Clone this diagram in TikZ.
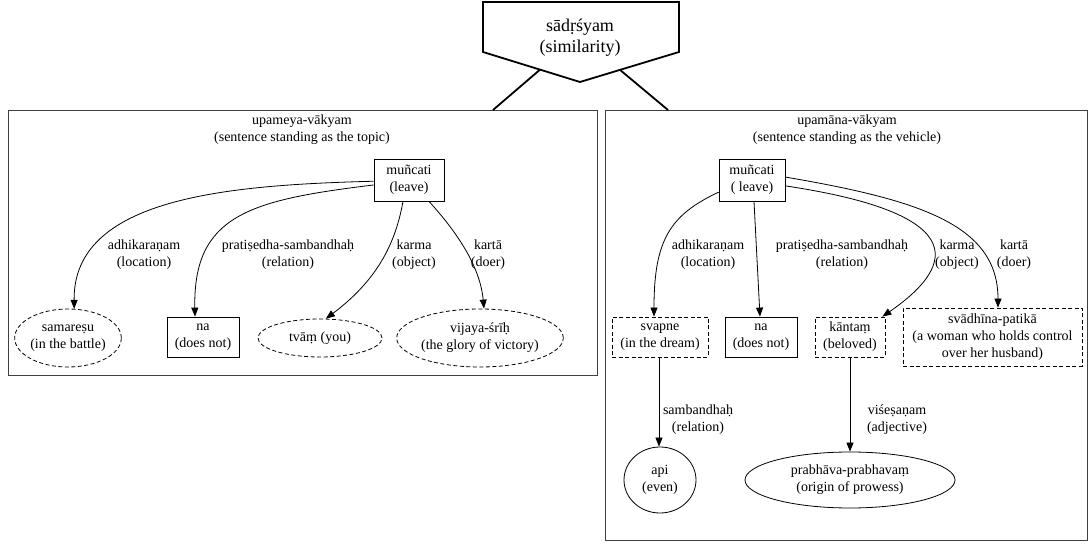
\documentclass[tikz,border=0pt]{standalone}
\usepackage{fontspec}
\setmainfont{Liberation Serif}
\usetikzlibrary{arrows.meta,shapes.geometric,calc}
\begin{document}
\begin{tikzpicture}[x=1pt,y=-1pt,
  txt/.style={font=\fontsize{14}{17}\selectfont, align=center, inner sep=0pt},
  box/.style={txt, draw, rectangle, line width=0.8pt},
  dbox/.style={box, dash pattern=on 4pt off 2.5pt},
  oval/.style={txt, draw, ellipse, line width=0.8pt},
  doval/.style={oval, dash pattern=on 4pt off 2.5pt},
  cluster/.style={draw=black!75, line width=0.8pt, rectangle, inner sep=0pt},
  arr/.style={line width=0.8pt, -{Triangle[length=9pt,width=7pt]}},
  link/.style={line width=1.8pt},
  lbl/.style={txt}
]
\useasboundingbox (0,0) rectangle (1088,545);

% clusters
\node[cluster, minimum width=589pt, minimum height=265pt] (cL) at (302.5,242.5) {};
\node[cluster, minimum width=482pt, minimum height=430pt] (cR) at (846,325) {};
\node[lbl] (cLt) at (302,130) {upameya-vākyam\\(sentence standing as the topic)};
\node[lbl] (cRt) at (847,130) {upamāna-vākyam\\(sentence standing as the vehicle)};

% top node (inverted house)
\coordinate (tTL) at (483,2);
\coordinate (tTR) at (679,2);
\coordinate (tBR) at (679,52);
\coordinate (tB) at (580,82);
\coordinate (tBL) at (483,52);
\draw[line width=1.8pt, line join=miter] (tTL) -- (tTR) -- (tBR) -- (tB) -- (tBL) -- cycle;
\node[font=\fontsize{18}{21}\selectfont, align=center, inner sep=0pt] (top) at (580,38) {sādṛśyam\\(similarity)};
\coordinate (tL) at ($(tBL)!0.588!(tB)$);
\coordinate (tR) at ($(tB)!0.404!(tBR)$);
\coordinate (cLin) at (493,110);
\coordinate (cRin) at (668,110);
\draw[link] (tL) -- (cLin);
\draw[link] (tR) -- (cRin);

% left cluster nodes
\node[box, minimum width=70pt, minimum height=42pt] (lm) at (409,180) {muñcati\\(leave)};
\node[doval, minimum width=106pt, minimum height=58pt] (sam) at (68,338) {samareṣu\\(in the battle)};
\node[box, minimum width=72pt, minimum height=40pt] (naL) at (203,337) {na\\(does not)};
\node[doval, minimum width=124pt, minimum height=38pt] (tva) at (320,338) {tvāṃ (you)};
\node[doval, minimum width=164pt, minimum height=58pt] (vij) at (480,338) {vijaya-śrīḥ\\(the glory of victory)};

\draw[arr] (lm.182) .. controls (230,185) and (73,197) .. (sam.78);
\draw[arr] (lm.188) .. controls (250,200) and (193,215) .. ([xshift=-8pt]naL.north);
\draw[arr] ([xshift=-6pt]lm.south) .. controls (396,240) and (380,278) .. (tva.73);
\draw[arr] ([xshift=20pt]lm.south) .. controls (455,230) and (480,265) .. ([xshift=4pt]vij.north);

\node[lbl] (l1) at (144,255) {adhikaraṇam\\(location)};
\node[lbl] (l2) at (288,255) {pratiṣedha-sambandhaḥ\\(relation)};
\node[lbl] (l3) at (414,255) {karma\\(object)};
\node[lbl] (l4) at (488,255) {kartā\\(doer)};

% right cluster nodes
\node[box, minimum width=66pt, minimum height=42pt] (rm) at (752,180) {muñcati\\( leave)};
\node[dbox, minimum width=96pt, minimum height=40pt] (sva) at (660,337) {svapne\\(in the dream)};
\node[box, minimum width=72pt, minimum height=40pt] (naR) at (761,337) {na\\(does not)};
\node[dbox, minimum width=70pt, minimum height=40pt] (kan) at (850,337) {kāntaṃ\\(beloved)};
\node[dbox, minimum width=179pt, minimum height=58pt] (svd) at (992.5,337) {svādhīna-patikā\\(a woman who holds control\\over her husband)};
\node[oval, minimum width=72pt, minimum height=66pt] (api) at (660,480) {api\\(even)};
\node[oval, minimum width=210pt, minimum height=56pt] (pra) at (850,480) {prabhāva-prabhavaṃ\\(origin of prowess)};

\draw[arr] (rm.200) .. controls (670,215) and (654,240) .. ([xshift=-6pt]sva.north);
\draw[arr] ([xshift=2pt]rm.south) -- ([xshift=-1pt]naR.north);
\draw[arr] (rm.350) .. controls (980,215) and (950,270) .. ([xshift=-3pt]kan.north east);
\draw[arr] (rm.5) .. controls (920,200) and (998,225) .. ([xshift=5.5pt]svd.north);
\draw[arr] ([xshift=-1pt]sva.south) -- ([xshift=-1pt]api.north);
\draw[arr] (kan.south) -- (pra.north);

\node[lbl] (r1) at (708,255) {adhikaraṇam\\(location)};
\node[lbl] (r2) at (842,255) {pratiṣedha-sambandhaḥ\\(relation)};
\node[lbl] (r3) at (957,255) {karma\\(object)};
\node[lbl] (r4) at (1014,255) {kartā\\(doer)};
\node[lbl] (r5) at (698,420) {sambandhaḥ\\(relation)};
\node[lbl] (r6) at (897,420) {viśeṣaṇam\\(adjective)};
\end{tikzpicture}
\end{document}
